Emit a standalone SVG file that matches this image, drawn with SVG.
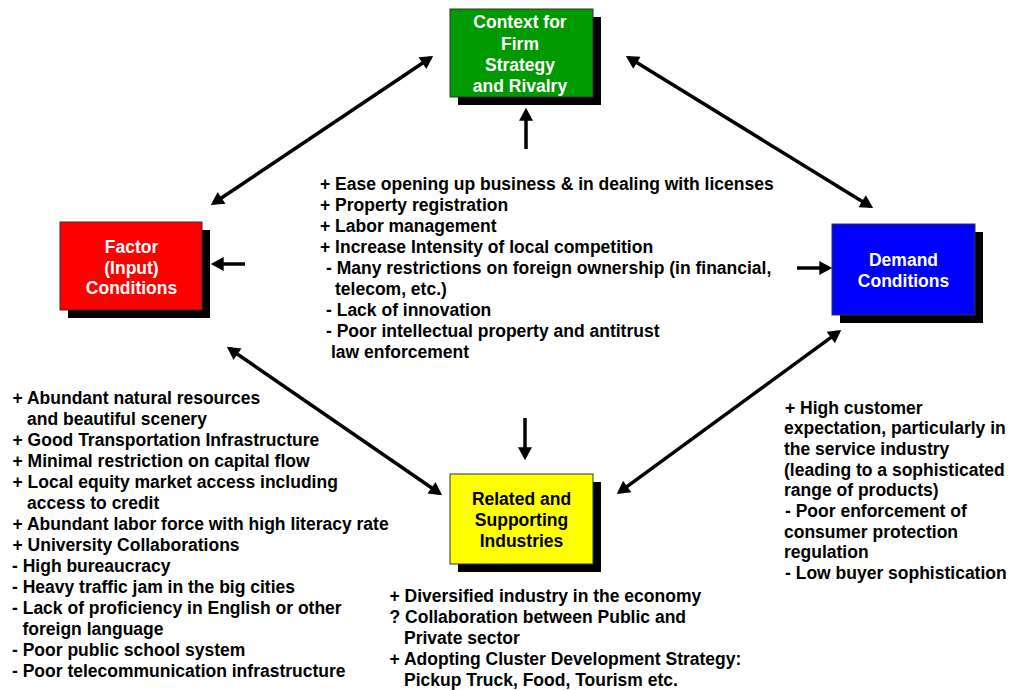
<svg xmlns="http://www.w3.org/2000/svg" width="1011" height="690" viewBox="0 0 1011 690">
<style>
text{font-family:"Liberation Sans",Arial,sans-serif;font-weight:bold;font-size:17.5px;fill:#000}
.box{stroke:#333;stroke-width:1}
.shadow{fill:#000}
.lbl{fill:#fff;text-anchor:middle}
.lblk{fill:#000;text-anchor:middle}
.conn{stroke:#000;stroke-width:3.5;fill:none}
.da{marker-start:url(#ah);marker-end:url(#ah)}
.sa{marker-end:url(#ah)}
</style>
<defs>
<marker id="ah" markerUnits="userSpaceOnUse" markerWidth="14" markerHeight="14" viewBox="0 0 12 13" refX="9" refY="6.5" orient="auto-start-reverse">
<path d="M0,0 L12,6.5 L0,13 Z" fill="#000"/>
</marker>
</defs>
<rect width="1011" height="690" fill="#fff"/>

<g id="connectors">
<line class="conn da" x1="430.5" y1="57.7" x2="213.5" y2="203.3"/>
<line class="conn da" x1="628.6" y1="57.6" x2="870.4" y2="206.4"/>
<line class="conn da" x1="229.5" y1="348.7" x2="439.5" y2="493.3"/>
<line class="conn da" x1="838.6" y1="331.8" x2="619.4" y2="492.2"/>
<line class="conn sa" x1="526" y1="149" x2="526" y2="111"/>
<line class="conn sa" x1="525" y1="418" x2="525" y2="457"/>
<line class="conn sa" x1="245" y1="264" x2="214" y2="264"/>
<line class="conn sa" x1="797" y1="268" x2="829" y2="268"/>
</g>

<g id="strategy">
<rect class="shadow" x="458" y="17" width="143" height="88"/>
<rect class="box" x="450" y="9" width="143" height="88" fill="#009900"/>
<text class="lbl" x="520" y="28">Context for</text>
<text class="lbl" x="520" y="50">Firm</text>
<text class="lbl" x="520" y="71">Strategy</text>
<text class="lbl" x="520" y="92">and Rivalry</text>
</g>

<g id="factor">
<rect class="shadow" x="68" y="230" width="142" height="88"/>
<rect class="box" x="60" y="222" width="142" height="88" fill="#ff0000"/>
<text class="lbl" x="131.5" y="253">Factor</text>
<text class="lbl" x="131.5" y="274">(Input)</text>
<text class="lbl" x="131.5" y="294">Conditions</text>
</g>

<g id="demand">
<rect class="shadow" x="840" y="232" width="143" height="91"/>
<rect class="box" x="832" y="224" width="143" height="91" fill="#0000ff"/>
<text class="lbl" x="903.5" y="266">Demand</text>
<text class="lbl" x="903.5" y="287">Conditions</text>
</g>

<g id="related">
<rect class="shadow" x="458" y="482" width="143" height="90"/>
<rect class="box" x="450" y="474" width="143" height="90" fill="#ffff00"/>
<text class="lblk" x="521.5" y="505">Related and</text>
<text class="lblk" x="521.5" y="526">Supporting</text>
<text class="lblk" x="521.5" y="547">Industries</text>
</g>

<g id="strategy-notes">
<text x="320" y="189.5">+ Ease opening up business &amp; in dealing with licenses</text>
<text x="320" y="210.5">+ Property registration</text>
<text x="320" y="231.5">+ Labor management</text>
<text x="320" y="252.5">+ Increase Intensity of local competition</text>
<text x="326" y="273.5">- Many restrictions on foreign ownership (in financial,</text>
<text x="335" y="294.5">telecom, etc.)</text>
<text x="326" y="315.5">- Lack of innovation</text>
<text x="326" y="336.5">- Poor intellectual property and antitrust</text>
<text x="331" y="357.5">law enforcement</text>
</g>

<g id="factor-notes">
<text x="12.5" y="404">+ Abundant natural resources</text>
<text x="27" y="425">and beautiful scenery</text>
<text x="12.5" y="446">+ Good Transportation Infrastructure</text>
<text x="12.5" y="467">+ Minimal restriction on capital flow</text>
<text x="12.5" y="488">+ Local equity market access including</text>
<text x="27" y="509">access to credit</text>
<text x="12.5" y="530">+ Abundant labor force with high literacy rate</text>
<text x="12.5" y="551">+ University Collaborations</text>
<text x="12" y="572">- High bureaucracy</text>
<text x="12" y="593">- Heavy traffic jam in the big cities</text>
<text x="12" y="614">- Lack of proficiency in English or other</text>
<text x="22.5" y="635">foreign language</text>
<text x="12" y="656">- Poor public school system</text>
<text x="12" y="677">- Poor telecommunication infrastructure</text>
</g>

<g id="related-notes">
<text x="389.5" y="602">+ Diversified industry in the economy</text>
<text x="389.5" y="623">? Collaboration between Public and</text>
<text x="404" y="644">Private sector</text>
<text x="389.5" y="665">+ Adopting Cluster Development Strategy:</text>
<text x="404" y="686">Pickup Truck, Food, Tourism etc.</text>
</g>

<g id="demand-notes">
<text x="785" y="413.5">+ High customer</text>
<text x="784" y="434.2">expectation, particularly in</text>
<text x="784" y="454.9">the service industry</text>
<text x="784" y="475.6">(leading to a sophisticated</text>
<text x="784" y="496.3">range of products)</text>
<text x="785" y="517">- Poor enforcement of</text>
<text x="784" y="537.7">consumer protection</text>
<text x="784" y="558.4">regulation</text>
<text x="785" y="579.1">- Low buyer sophistication</text>
</g>
</svg>
